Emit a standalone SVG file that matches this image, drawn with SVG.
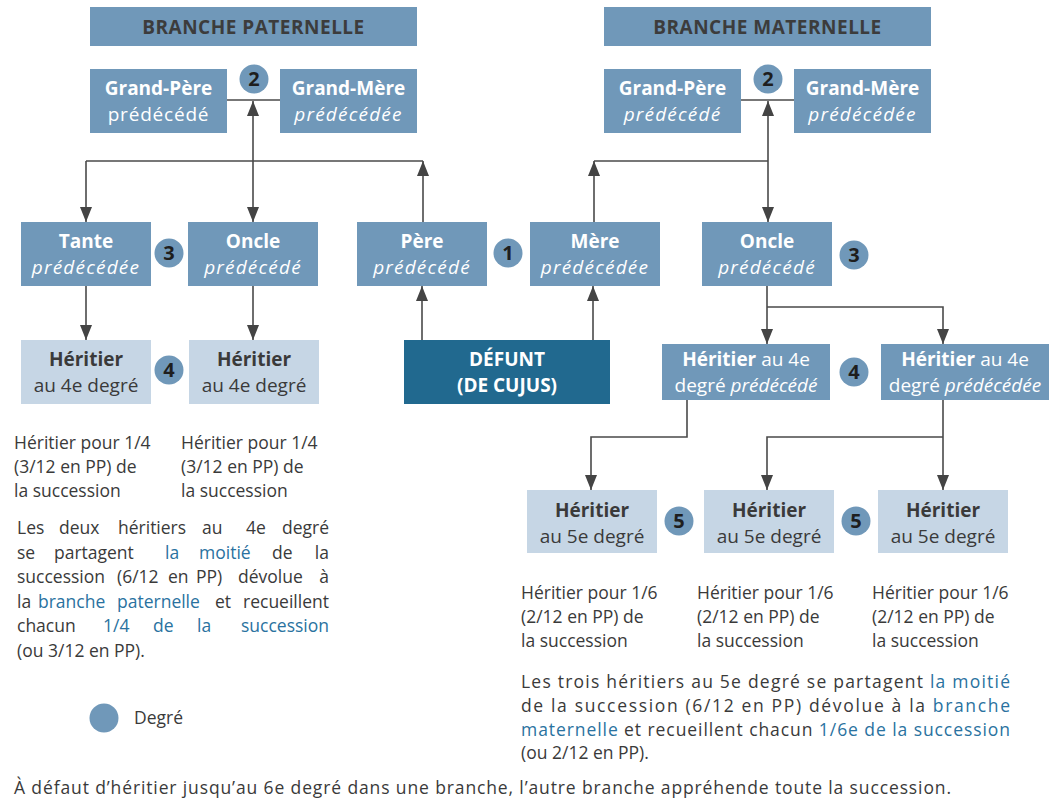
<svg xmlns="http://www.w3.org/2000/svg" width="1056" height="802" viewBox="0 0 1056 802">
<style>
text{font-family:"Open Sans","Liberation Sans",sans-serif;}
.mid{fill:#7098b9;}
.light{fill:#c6d6e5;}
.dark{fill:#21698f;}
.hdr{font-size:19px;font-weight:700;fill:#3c3c3c;text-anchor:middle;letter-spacing:0.5px;}
.bw{font-size:19px;font-weight:700;fill:#ffffff;text-anchor:middle;}
.iw{font-size:19px;font-style:italic;fill:#ffffff;text-anchor:middle;letter-spacing:1.2px;}
.sw{font-size:19px;fill:#ffffff;text-anchor:middle;letter-spacing:0.8px;}
.rw{font-size:19px;fill:#ffffff;text-anchor:middle;}
.bd{font-size:19px;font-weight:700;fill:#3a3a3a;text-anchor:middle;}
.rd{font-size:19px;fill:#3a3a3a;text-anchor:middle;}
.deg circle{fill:#7098b9;}
.deg text{font-size:20px;font-weight:700;fill:#1e1e1e;text-anchor:middle;}
.body{font-size:17.5px;fill:#3a3a3a;}
.blue{fill:#2a72a0;}
.ln{fill:none;stroke:#4a4a4a;stroke-width:1.6;}
.ar{marker-end:url(#ah);}
.ab{marker-start:url(#ah);marker-end:url(#ah);}
</style>
<defs>
<marker id="ah" viewBox="0 0 15 12" refX="15" refY="6" markerWidth="15" markerHeight="12" orient="auto-start-reverse" markerUnits="userSpaceOnUse">
<path d="M0,0 L15,6 L0,12 z" fill="#444444"/>
</marker>
</defs>

<g id="connectors">
<path class="ln" d="M227,100 H280"/>
<path class="ln ab" d="M253,101 V222"/>
<path class="ln" d="M86,161 H423"/>
<path class="ln ar" d="M86,161 V222"/>
<path class="ln ar" d="M423,222 V161"/>
<path class="ln ar" d="M86,286 V340"/>
<path class="ln ar" d="M253,286 V340"/>
<path class="ln ar" d="M422,340 V286"/>
<path class="ln ar" d="M593,340 V286"/>
<path class="ln" d="M741,100 H794"/>
<path class="ln ab" d="M768,101 V222"/>
<path class="ln" d="M594,161 H768"/>
<path class="ln ar" d="M594,222 V161"/>
<path class="ln ar" d="M767,286 V344"/>
<path class="ln ar" d="M767,307 H943 V344"/>
<path class="ln ar" d="M687,400 V437 H591 V490"/>
<path class="ln ar" d="M943,400 V490"/>
<path class="ln ar" d="M943,437 H767 V490"/>
</g>

<g id="hdr-paternelle"><rect class="mid" x="90" y="7" width="327" height="39"/><text class="hdr" x="253.5" y="34">BRANCHE PATERNELLE</text></g>
<g id="hdr-maternelle"><rect class="mid" x="604" y="7" width="327" height="39"/><text class="hdr" x="767.5" y="34">BRANCHE MATERNELLE</text></g>

<g id="gp-pat"><rect class="mid" x="90" y="69" width="137" height="64"/><text class="bw" x="158.5" y="95">Grand-Père</text><text class="sw" x="158.5" y="121">prédécédé</text></g>
<g id="gm-pat"><rect class="mid" x="280" y="69" width="137" height="64"/><text class="bw" x="348.5" y="95">Grand-Mère</text><text class="iw" x="348.5" y="121">prédécédée</text></g>
<g id="gp-mat"><rect class="mid" x="604" y="69" width="137" height="64"/><text class="bw" x="672.5" y="95">Grand-Père</text><text class="iw" x="672.5" y="121">prédécédé</text></g>
<g id="gm-mat"><rect class="mid" x="794" y="69" width="137" height="64"/><text class="bw" x="862.5" y="95">Grand-Mère</text><text class="iw" x="862.5" y="121">prédécédée</text></g>

<g id="tante"><rect class="mid" x="21" y="222" width="130" height="64"/><text class="bw" x="86" y="248">Tante</text><text class="iw" x="86" y="274">prédécédée</text></g>
<g id="oncle-pat"><rect class="mid" x="188" y="222" width="130" height="64"/><text class="bw" x="253" y="248">Oncle</text><text class="iw" x="253" y="274">prédécédé</text></g>
<g id="pere"><rect class="mid" x="357" y="222" width="130" height="64"/><text class="bw" x="422" y="248">Père</text><text class="iw" x="422" y="274">prédécédé</text></g>
<g id="mere"><rect class="mid" x="530" y="222" width="130" height="64"/><text class="bw" x="595" y="248">Mère</text><text class="iw" x="595" y="274">prédécédée</text></g>
<g id="oncle-mat"><rect class="mid" x="702" y="222" width="130" height="64"/><text class="bw" x="767" y="248">Oncle</text><text class="iw" x="767" y="274">prédécédé</text></g>

<g id="heritier4-a"><rect class="light" x="21" y="340" width="130" height="64"/><text class="bd" x="86" y="366">Héritier</text><text class="rd" x="86" y="392">au 4e degré</text></g>
<g id="heritier4-b"><rect class="light" x="189" y="340" width="130" height="64"/><text class="bd" x="254" y="366">Héritier</text><text class="rd" x="254" y="392">au 4e degré</text></g>
<g id="defunt"><rect class="dark" x="404" y="340" width="206" height="64"/><text class="bw" x="507" y="366">DÉFUNT</text><text class="bw" x="507" y="392">(DE CUJUS)</text></g>

<g id="heritier4-mat-a"><rect class="mid" x="662" y="344" width="168" height="56"/><text class="rw" x="746" y="366"><tspan font-weight="700">Héritier</tspan> au 4e</text><text class="rw" x="746" y="392">degré <tspan font-style="italic">prédécédé</tspan></text></g>
<g id="heritier4-mat-b"><rect class="mid" x="881" y="344" width="168" height="56"/><text class="rw" x="965" y="366"><tspan font-weight="700">Héritier</tspan> au 4e</text><text class="rw" x="965" y="392">degré <tspan font-style="italic">prédécédée</tspan></text></g>

<g id="heritier5-a"><rect class="light" x="527" y="490" width="130" height="63"/><text class="bd" x="592" y="517">Héritier</text><text class="rd" x="592" y="543">au 5e degré</text></g>
<g id="heritier5-b"><rect class="light" x="704" y="490" width="130" height="63"/><text class="bd" x="769" y="517">Héritier</text><text class="rd" x="769" y="543">au 5e degré</text></g>
<g id="heritier5-c"><rect class="light" x="878" y="490" width="130" height="63"/><text class="bd" x="943" y="517">Héritier</text><text class="rd" x="943" y="543">au 5e degré</text></g>

<g id="degres" class="deg">
<circle cx="254" cy="79" r="14.5"/><text x="254" y="86">2</text>
<circle cx="768" cy="79" r="14.5"/><text x="768" y="86">2</text>
<circle cx="169" cy="253" r="14.5"/><text x="169" y="260">3</text>
<circle cx="508" cy="253" r="14.5"/><text x="508" y="260">1</text>
<circle cx="854" cy="255" r="14.5"/><text x="854" y="262">3</text>
<circle cx="169" cy="370" r="14.5"/><text x="169" y="377">4</text>
<circle cx="854" cy="372" r="14.5"/><text x="854" y="379">4</text>
<circle cx="679" cy="521" r="14.5"/><text x="679" y="528">5</text>
<circle cx="856" cy="521" r="14.5"/><text x="856" y="528">5</text>
</g>

<g id="parts-pat" class="body">
<text x="14" y="449">Héritier pour 1/4</text>
<text x="14" y="473">(3/12 en PP) de</text>
<text x="14" y="497">la succession</text>
<text x="181" y="449">Héritier pour 1/4</text>
<text x="181" y="473">(3/12 en PP) de</text>
<text x="181" y="497">la succession</text>
</g>

<g id="note-pat" class="body">
<text y="534"><tspan x="17">Les</tspan><tspan x="59">deux</tspan><tspan x="118">héritiers</tspan><tspan x="202">au</tspan><tspan x="246">4e</tspan><tspan x="329" text-anchor="end">degré</tspan></text>
<text y="558.5"><tspan x="17">se</tspan><tspan x="54">partagent</tspan><tspan x="165" class="blue">la</tspan><tspan x="199" class="blue">moitié</tspan><tspan x="272">de</tspan><tspan x="329" text-anchor="end">la</tspan></text>
<text y="583"><tspan x="17">succession</tspan><tspan x="117">(6/12</tspan><tspan x="168">en</tspan><tspan x="196">PP)</tspan><tspan x="238">dévolue</tspan><tspan x="329" text-anchor="end">à</tspan></text>
<text y="607.5"><tspan x="17">la</tspan><tspan x="38" class="blue">branche</tspan><tspan x="117" class="blue">paternelle</tspan><tspan x="215">et</tspan><tspan x="329" text-anchor="end">recueillent</tspan></text>
<text y="632"><tspan x="17">chacun</tspan><tspan x="103" class="blue">1/4</tspan><tspan x="153" class="blue">de</tspan><tspan x="197" class="blue">la</tspan><tspan x="329" text-anchor="end" class="blue">succession</tspan></text>
<text y="656.5"><tspan x="17">(ou 3/12 en PP).</tspan></text>
</g>

<g id="parts-mat" class="body">
<text x="521" y="599">Héritier pour 1/6</text>
<text x="521" y="623">(2/12 en PP) de</text>
<text x="521" y="647">la succession</text>
<text x="697" y="599">Héritier pour 1/6</text>
<text x="697" y="623">(2/12 en PP) de</text>
<text x="697" y="647">la succession</text>
<text x="872" y="599">Héritier pour 1/6</text>
<text x="872" y="623">(2/12 en PP) de</text>
<text x="872" y="647">la succession</text>
</g>

<g id="note-mat" class="body">
<text x="521" y="688" textLength="489" lengthAdjust="spacing">Les trois héritiers au 5e degré se partagent <tspan class="blue">la moitié</tspan></text>
<text x="521" y="712" textLength="489" lengthAdjust="spacing">de la succession (6/12 en PP) dévolue à la <tspan class="blue">branche</tspan></text>
<text x="521" y="736" textLength="489" lengthAdjust="spacing"><tspan class="blue">maternelle</tspan> et recueillent chacun <tspan class="blue">1/6e de la succession</tspan></text>
<text x="521" y="759">(ou 2/12 en PP).</text>
</g>

<g id="legende">
<circle cx="104" cy="718" r="14.5" fill="#7098b9"/>
<text class="body" x="134" y="724">Degré</text>
</g>

<g id="note-bas">
<text class="body" x="14" y="794" textLength="937" lengthAdjust="spacing">À défaut d’héritier jusqu’au 6e degré dans une branche, l’autre branche appréhende toute la succession.</text>
</g>
</svg>
